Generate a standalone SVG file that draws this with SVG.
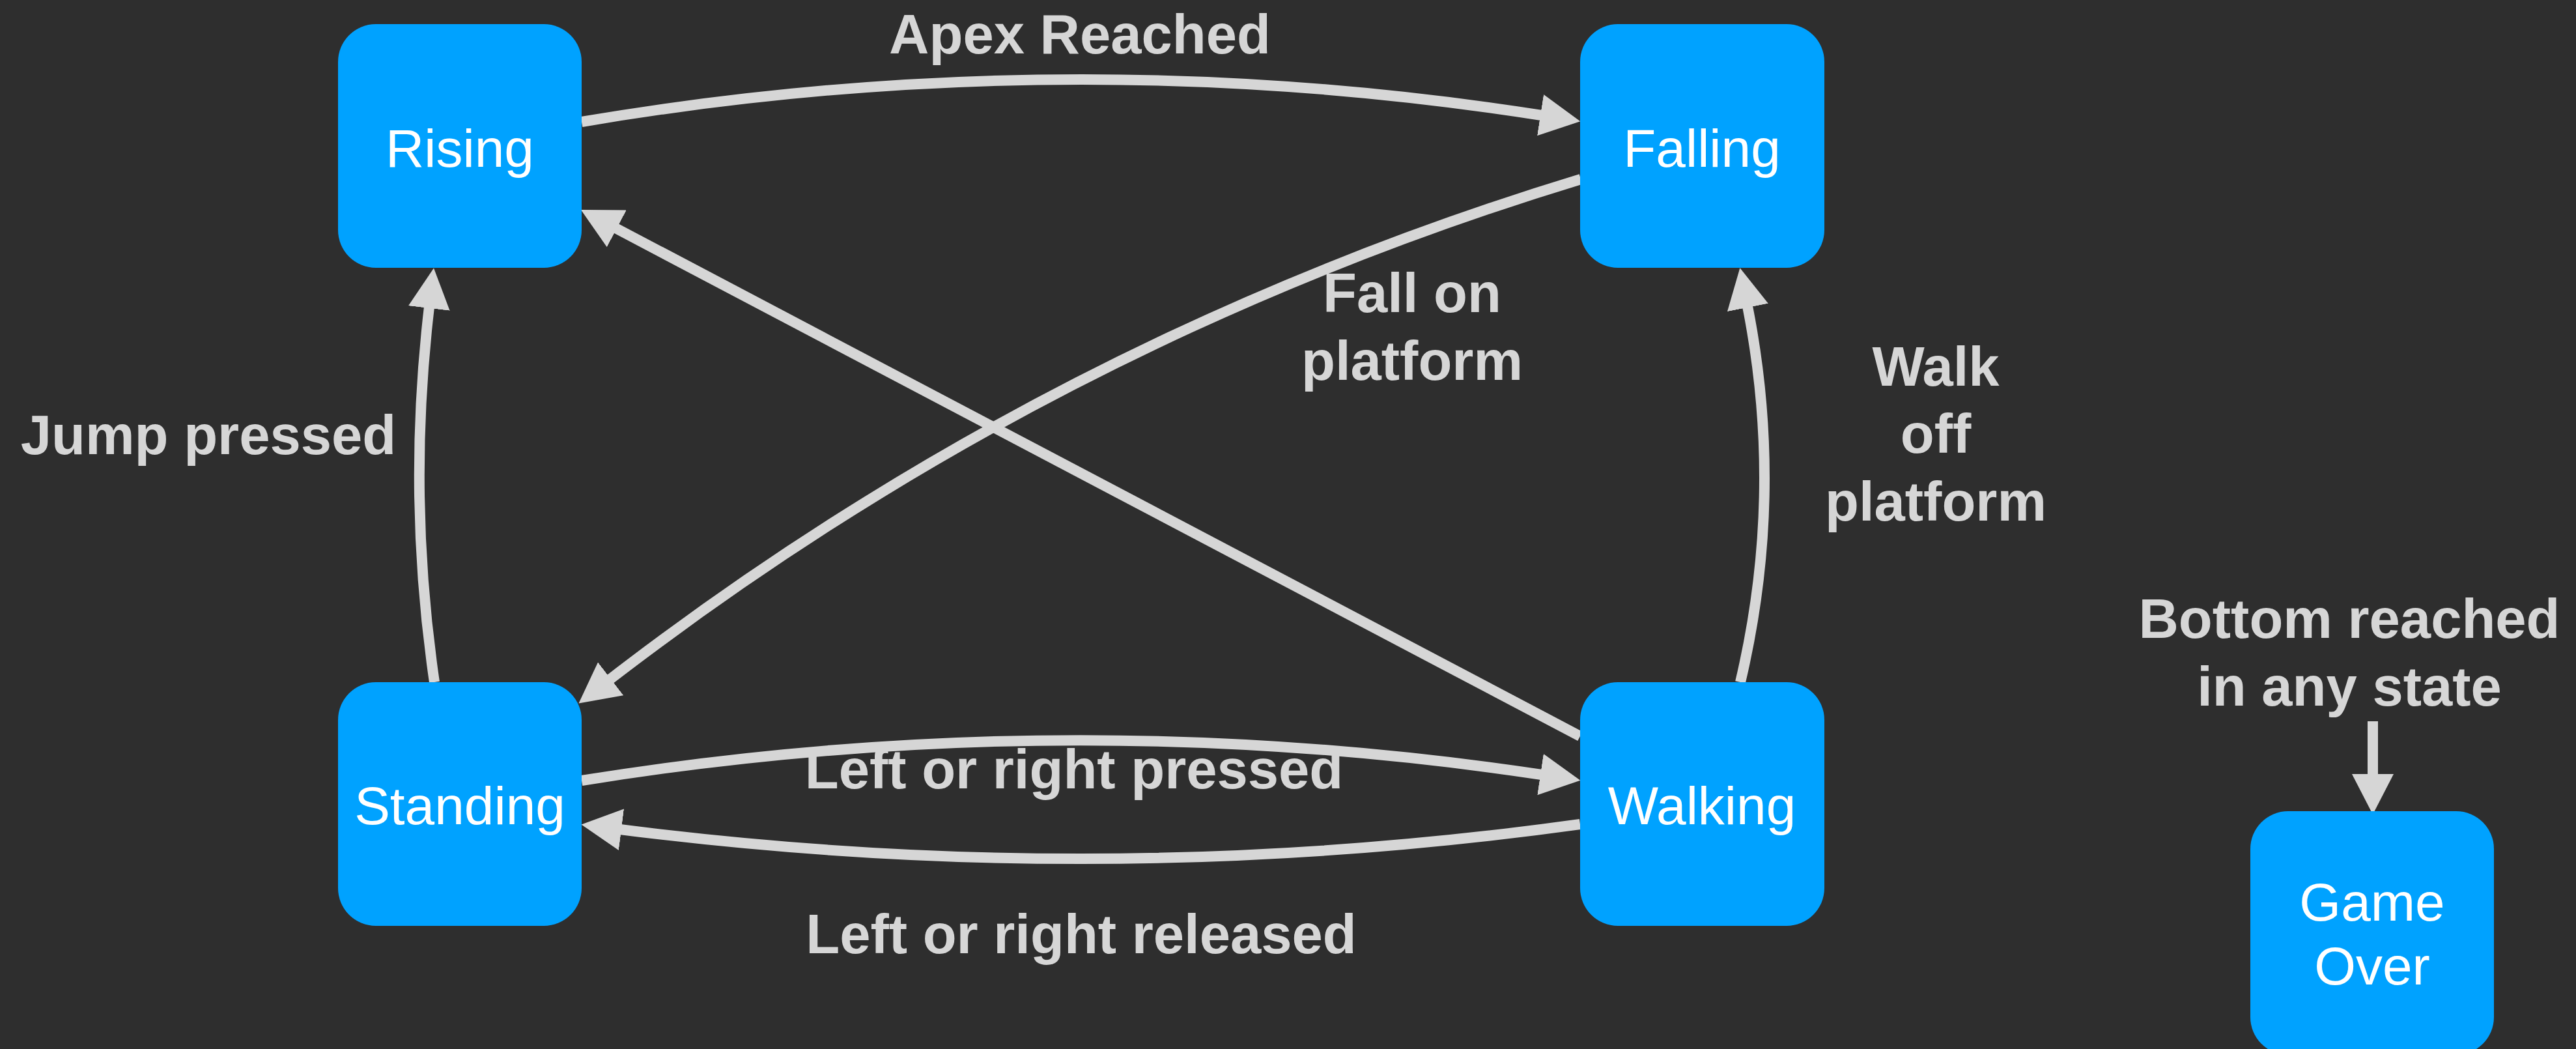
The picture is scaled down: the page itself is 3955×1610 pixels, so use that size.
<svg xmlns="http://www.w3.org/2000/svg" width="3955" height="1610" viewBox="0 0 3955 1610">
  <style>
    .node { fill: #00a2ff; }
    .ntext { font-family: "Liberation Sans", Arial, sans-serif; font-size: 82px; fill: #ffffff; text-anchor: middle; }
    .label { font-family: "Liberation Sans", Arial, sans-serif; font-weight: bold; font-size: 85px; fill: #d6d6d6; text-anchor: middle; }
    .edge { fill: none; stroke: #d6d6d6; stroke-width: 16; marker-end: url(#arrow); }
  </style>
  <defs>
    <marker id="arrow" markerUnits="userSpaceOnUse" markerWidth="62" markerHeight="64" refX="2" refY="32" orient="auto" viewBox="0 0 62 64">
      <path d="M0,0 L62,32 L0,64 Z" fill="#d6d6d6"/>
    </marker>
  </defs>
  <rect width="3955" height="1610" fill="#2e2e2e"/>

  <g id="connectors">
    <path id="e-apex" class="edge" d="M893,187 Q1630,62 2367,177"/>
    <path id="e-jump" class="edge" d="M667,1047 Q625,760 659,471"/>
    <path id="e-walkoff" class="edge" d="M2672,1047 Q2740,759 2683,470"/>
    <path id="e-lrpressed" class="edge" d="M893,1198 Q1630,1079 2367,1189"/>
    <path id="e-lrreleased" class="edge" d="M2426,1265 Q1690,1367 952,1273"/>
    <path id="e-fallon" class="edge" d="M2427,275 Q1611,523 936,1043"/>
    <path id="e-walk-rise" class="edge" d="M2426,1130 L945,350"/>
    <path id="e-gameover" class="edge" d="M3643,1107 L3643,1190"/>
  </g>

  <g id="labels">
    <text class="label" x="1658" y="82">Apex Reached</text>
    <text class="label" x="320" y="697">Jump pressed</text>
    <text class="label" x="2168" y="479">Fall on</text>
    <text class="label" x="2168" y="583">platform</text>
    <text class="label" x="2972" y="592">Walk</text>
    <text class="label" x="2972" y="695">off</text>
    <text class="label" x="2972" y="799">platform</text>
    <text class="label" x="1649" y="1210">Left or right pressed</text>
    <text class="label" x="1660" y="1463">Left or right released</text>
    <text class="label" x="3607" y="979">Bottom reached</text>
    <text class="label" x="3607" y="1083">in any state</text>
  </g>

  <g id="node-rising">
    <rect class="node" x="519" y="37" width="374" height="374" rx="58"/>
    <text class="ntext" x="706" y="256">Rising</text>
  </g>
  <g id="node-falling">
    <rect class="node" x="2426" y="37" width="375" height="374" rx="58"/>
    <text class="ntext" x="2613" y="256">Falling</text>
  </g>
  <g id="node-standing">
    <rect class="node" x="519" y="1047" width="374" height="374" rx="58"/>
    <text class="ntext" x="706" y="1265">Standing</text>
  </g>
  <g id="node-walking">
    <rect class="node" x="2426" y="1047" width="375" height="374" rx="58"/>
    <text class="ntext" x="2613" y="1265">Walking</text>
  </g>
  <g id="node-gameover">
    <rect class="node" x="3455" y="1245" width="374" height="374" rx="58"/>
    <text class="ntext" x="3642" y="1413">Game</text>
    <text class="ntext" x="3642" y="1511">Over</text>
  </g>
</svg>
